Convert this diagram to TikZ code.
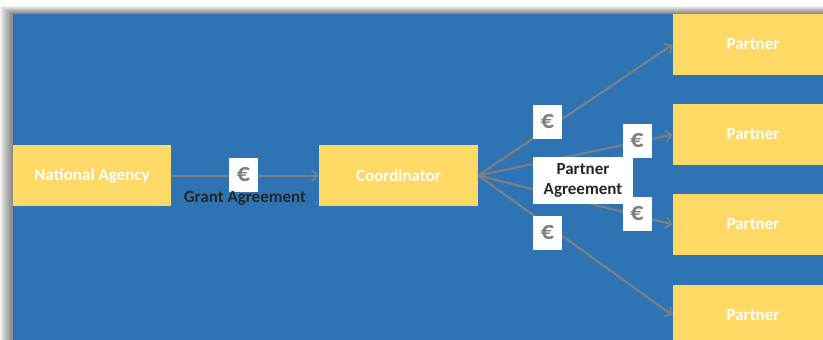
\documentclass[tikz,border=0pt]{standalone}
\usepackage{fontspec}
\setmainfont{Carlito}
\usetikzlibrary{arrows.meta}
\definecolor{bgblue}{HTML}{2E74B5}
\definecolor{boxyellow}{HTML}{FFD966}
\definecolor{linegrey}{HTML}{7F7F7F}
\definecolor{darktext}{HTML}{262626}
\tikzset{
  ybox/.style={fill=boxyellow, draw=none, minimum width=158pt, minimum height=61pt, inner sep=0pt,
    text=white, font=\bfseries\fontsize{17}{19}\selectfont},
  eurobox/.style={fill=white, draw=none, minimum width=29pt, minimum height=34pt, inner sep=0pt,
    text=linegrey, font=\bfseries\fontsize{26}{28}\selectfont},
  conn/.style={draw=linegrey, line width=2pt, -{Straight Barb[length=6pt,width=11pt,line width=1.6pt]}},
}
\begin{document}
\begin{tikzpicture}[x=1pt,y=-1pt]
\useasboundingbox (0,0) rectangle (823,340);
% shadow
\fill[white] (0,0) rectangle (823,340);
\foreach \k in {13,12,...,1}{
  \fill[black,opacity=0.045] (13-\k,14-0.6*\k) rectangle (823,340);
}
\fill[bgblue] (13,14) rectangle (823,340);
% boxes
\node[ybox] (na) at (92,175.5) {National Agency};
\node[ybox, minimum width=159pt] (co) at (398.5,175.5) {Coordinator};
\node[ybox, minimum width=160pt] (p1) at (753,44.5) {Partner};
\node[ybox, minimum width=160pt] (p2) at (753,134.5) {Partner};
\node[ybox, minimum width=160pt] (p3) at (753,224.5) {Partner};
\node[ybox, minimum width=160pt] (p4) at (753,315.5) {Partner};
% connectors
\draw[conn] (na.east) -- (co.west);
\draw[conn] (co.east) -- (p1.west);
\draw[conn] (co.east) -- (p2.west);
\draw[conn] (co.east) -- (p3.west);
\draw[conn] (co.east) -- (p4.west);
% euro boxes
\node[eurobox] (e0) at (243.5,174.5) {€};
\node[eurobox] (e1) at (547.5,122) {€};
\node[eurobox] (e2) at (637,140.5) {€};
\node[eurobox] (e3) at (637,213.5) {€};
\node[eurobox] (e4) at (547.5,233) {€};
\node[fill=white, minimum width=100pt, minimum height=47pt, inner sep=0pt, align=center,
  font=\bfseries\fontsize{17}{20}\selectfont, text=darktext] (pa) at (583,180.5) {Partner\\Agreement};
\node[font=\bfseries\fontsize{17}{19}\selectfont, text=darktext] (ga) at (245,198) {Grant Agreement};
\end{tikzpicture}
\end{document}
